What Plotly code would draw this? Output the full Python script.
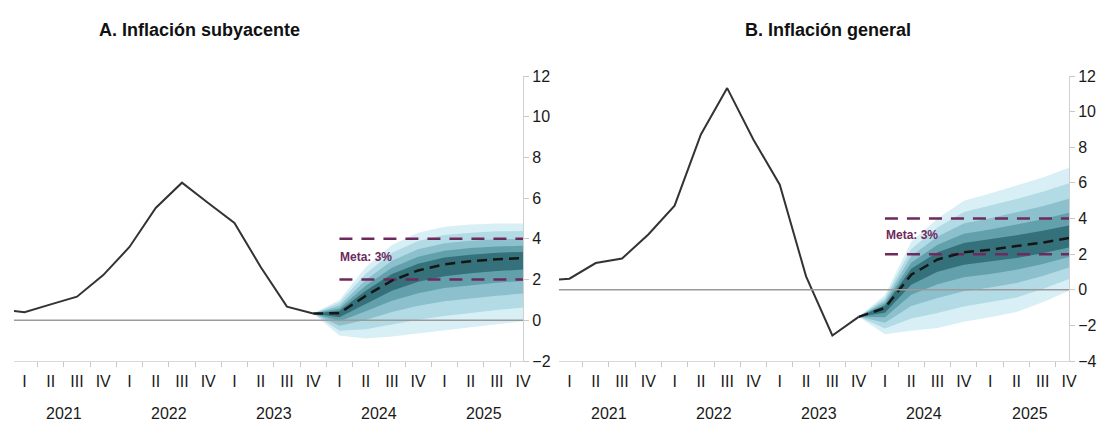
import plotly.graph_objects as go
from plotly.subplots import make_subplots

# ---------------- data ----------------
quarters = ["I", "II", "III", "IV"] * 5          # I-2021 ... IV-2025 (index 0..19)
years = ["2021", "2022", "2023", "2024", "2025"]

# history: IV-2020 (index -1) ... IV-2023 (index 11)
hist_start = -1
core_hist = [0.53, 0.40, 0.78, 1.16, 2.22, 3.60, 5.52, 6.76, 5.76, 4.78, 2.62, 0.67, 0.33]
head_hist = [0.50, 0.62, 1.50, 1.75, 3.10, 4.72, 8.72, 11.32, 8.42, 5.90, 0.75, -2.57, -1.52]

# forecast: IV-2023 (index 11) ... IV-2025 (index 19)
fc_start = 11
core_central = [0.33, 0.35, 1.20, 1.95, 2.45, 2.75, 2.90, 3.00, 3.05]
head_central = [-1.52, -1.02, 0.85, 1.70, 2.10, 2.25, 2.45, 2.65, 2.90]

# fan bounds, outer -> inner
core_upper = [
    [0.33, 1.00, 2.60, 3.70, 4.30, 4.60, 4.70, 4.75, 4.75],
    [0.33, 0.86, 2.29, 3.32, 3.89, 4.19, 4.30, 4.37, 4.38],
    [0.33, 0.71, 1.98, 2.93, 3.49, 3.79, 3.91, 3.98, 4.00],
    [0.33, 0.58, 1.70, 2.58, 3.12, 3.42, 3.55, 3.63, 3.66],
    [0.33, 0.47, 1.45, 2.27, 2.78, 3.08, 3.22, 3.32, 3.36],
]
core_lower = [
    [0.33, -0.75, -0.90, -0.80, -0.65, -0.50, -0.35, -0.20, -0.05],
    [0.33, -0.51, -0.44, -0.20, 0.03, 0.21, 0.36, 0.50, 0.63],
    [0.33, -0.27, 0.02, 0.41, 0.71, 0.93, 1.08, 1.21, 1.31],
    [0.33, -0.05, 0.44, 0.96, 1.33, 1.58, 1.73, 1.85, 1.93],
    [0.33, 0.15, 0.82, 1.45, 1.89, 2.16, 2.31, 2.42, 2.49],
]
head_upper = [
    [-1.52, -0.30, 2.70, 4.00, 5.00, 5.40, 5.85, 6.30, 6.85],
    [-1.52, -0.46, 2.29, 3.49, 4.36, 4.71, 5.10, 5.50, 5.98],
    [-1.52, -0.62, 1.89, 2.99, 3.72, 4.01, 4.35, 4.69, 5.11],
    [-1.52, -0.76, 1.52, 2.53, 3.14, 3.38, 3.67, 3.96, 4.32],
    [-1.52, -0.89, 1.18, 2.11, 2.62, 2.82, 3.06, 3.31, 3.61],
]
head_lower = [
    [-1.52, -2.50, -2.30, -2.15, -1.80, -1.55, -1.25, -0.70, -0.05],
    [-1.52, -2.17, -1.61, -1.30, -0.94, -0.71, -0.44, 0.04, 0.60],
    [-1.52, -1.85, -0.91, -0.46, -0.08, 0.12, 0.38, 0.77, 1.25],
    [-1.52, -1.55, -0.28, 0.31, 0.70, 0.88, 1.12, 1.44, 1.84],
    [-1.52, -1.29, 0.28, 1.01, 1.40, 1.57, 1.78, 2.05, 2.37],
]

target_band = [2, 4]
target_start = 12
target_label = "Meta: 3%"
titles = ["A. Inflación subyacente", "B. Inflación general"]

# ---------------- style ----------------
FONT = "Arial, Liberation Sans, sans-serif"
fan_colors = ["#d8eff6", "#b2dbe6", "#8bc0cc", "#62a0ab", "#35717a"]
purple = "#6e2a5c"

fig = make_subplots(rows=1, cols=2, horizontal_spacing=0.034)

panels = [
    (core_hist, core_central, core_upper, core_lower, [-2, 12]),
    (head_hist, head_central, head_upper, head_lower, [-4, 12]),
]

for col, (hist, central, uppers, lowers, yr) in enumerate(panels, start=1):
    hx = list(range(hist_start, hist_start + len(hist)))
    fx = list(range(fc_start, fc_start + len(central)))
    for up, lo, c in zip(uppers, lowers, fan_colors):
        fig.add_trace(go.Scatter(x=fx + fx[::-1], y=up + lo[::-1], fill="toself",
                                 fillcolor=c, line=dict(width=0), mode="lines",
                                 hoverinfo="skip", showlegend=False), row=1, col=col)
    tx = list(range(target_start, fc_start + len(central)))
    for lvl in target_band:
        fig.add_trace(go.Scatter(x=tx, y=[lvl] * len(tx), mode="lines",
                                 line=dict(color=purple, width=2.5, dash="13px,9px"),
                                 showlegend=False), row=1, col=col)
    fig.add_trace(go.Scatter(x=hx, y=hist, mode="lines",
                             line=dict(color="#333333", width=2), showlegend=False),
                  row=1, col=col)
    fig.add_trace(go.Scatter(x=fx, y=central, mode="lines",
                             line=dict(color="#151515", width=2.5, dash="10px,6px"),
                             showlegend=False), row=1, col=col)

    xa = "x" if col == 1 else "x2"
    ya = "y" if col == 1 else "y2"
    fig.update_xaxes(range=[-0.4, 19], tickmode="array", tickvals=list(range(20)),
                     ticktext=quarters, ticks="", showgrid=False, zeroline=False,
                     showline=True, linecolor="#d9d9d9", linewidth=1,
                     tickfont=dict(family=FONT, size=16, color="#1a1a1a"),
                     ticklabelstandoff=6,
                     minor=dict(tickmode="array", tickvals=[k + 0.5 for k in range(-1, 19)],
                                ticks="outside", ticklen=5, tickcolor="#c8c8c8",
                                showgrid=False),
                     row=1, col=col)
    fig.update_yaxes(range=yr, side="right", dtick=2, showgrid=False,
                     zeroline=False, showline=True, linecolor="#d0d0d0", linewidth=1,
                     ticks="outside", ticklen=5, tickcolor="#c8c8c8",
                     tickfont=dict(family=FONT, size=16, color="#1a1a1a"),
                     row=1, col=col)
    # zero line over the fan
    fig.add_shape(type="line", xref=f"{xa} domain", yref=ya, x0=0, x1=1, y0=0, y1=0,
                  line=dict(color="#9a9a9a", width=1.5), layer="above")
    for i, yv in enumerate(years):
        fig.add_annotation(x=1.5 + 4 * i, y=-0.185, xref=xa, yref="paper", text=yv,
                           showarrow=False, font=dict(family=FONT, size=16, color="#1a1a1a"),
                           xanchor="center", yanchor="middle")
    fig.add_annotation(x=target_start - 0.05, y=3.1, xref=xa, yref=ya, text=f"<b>{target_label}</b>",
                       showarrow=False, xanchor="left", yanchor="middle",
                       font=dict(family=FONT, size=12, color=purple))

fig.add_annotation(x=0.176, y=1.16, xref="paper", yref="paper", text=f"<b>{titles[0]}</b>",
                   showarrow=False, font=dict(family=FONT, size=18, color="#111111"),
                   xanchor="center", yanchor="middle")
fig.add_annotation(x=0.772, y=1.16, xref="paper", yref="paper", text=f"<b>{titles[1]}</b>",
                   showarrow=False, font=dict(family=FONT, size=18, color="#111111"),
                   xanchor="center", yanchor="middle")

fig.update_layout(width=1109, height=422, margin=dict(l=14, r=32, t=76, b=61),
                  paper_bgcolor="white", plot_bgcolor="white", showlegend=False)
fig.update_layout(xaxis=dict(domain=[0, 0.4826]), xaxis2=dict(domain=[0.5165, 1.0]))

fig.write_html("out.html", config={"displayModeBar": False},
               post_script="document.body.style.margin='0';document.body.style.overflow='hidden';")
